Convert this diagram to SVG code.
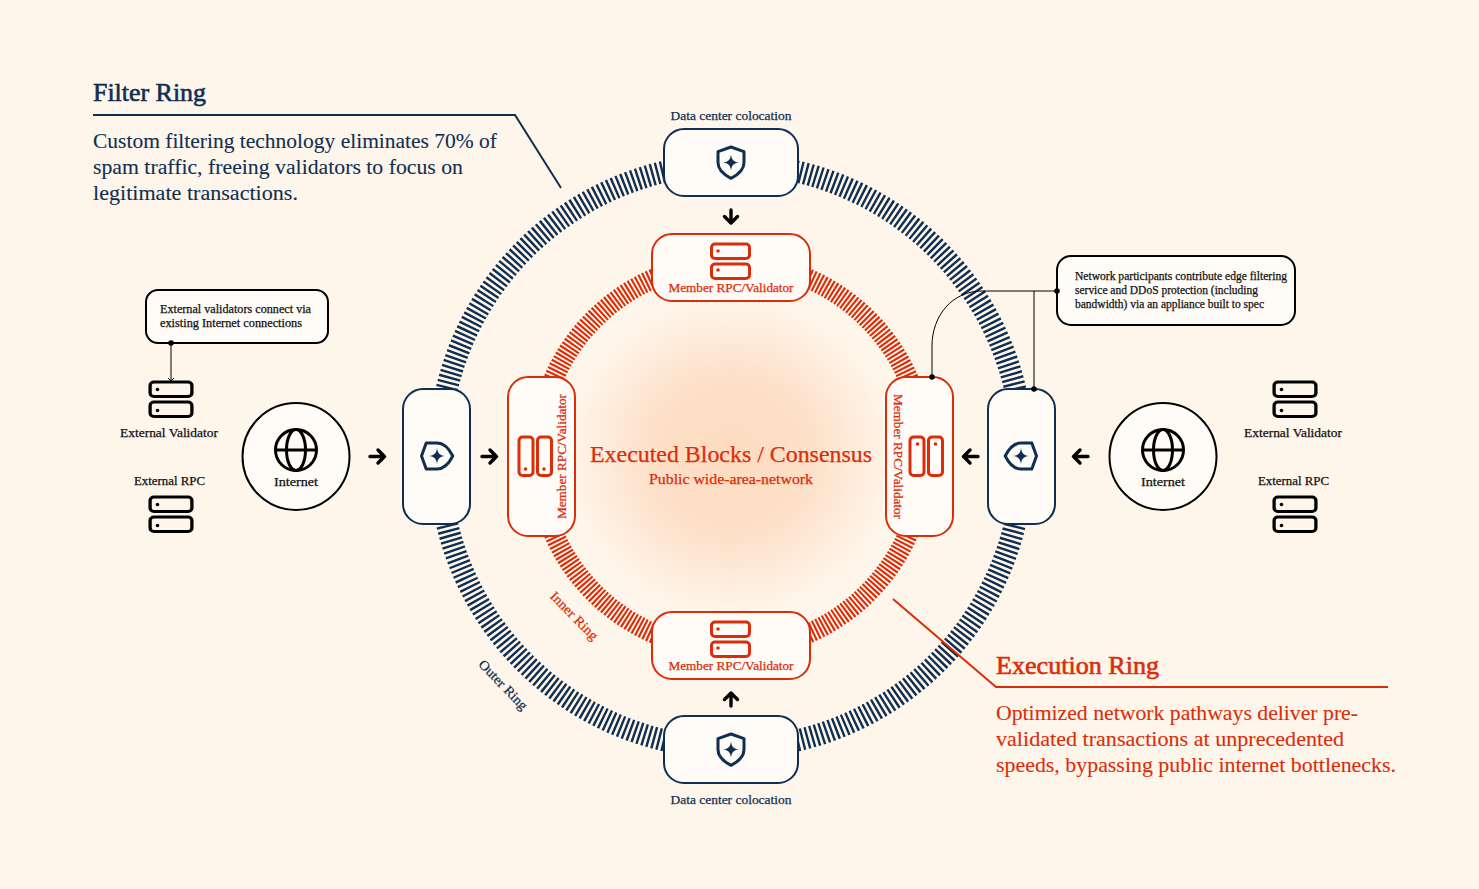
<svg xmlns="http://www.w3.org/2000/svg" xmlns:xlink="http://www.w3.org/1999/xlink" width="1479" height="889" viewBox="0 0 1479 889">
<style>
text{font-family:"Liberation Serif","Times New Roman",serif;}
.navy{fill:#0f2f52;stroke:#0f2f52}.red{fill:#db2d0a;stroke:#db2d0a}.blk{fill:#111;stroke:#111}
text.navy,text.red,text.blk{stroke-width:.25}
circle.red{stroke:none}
.n{fill:#fffcf7;stroke:#0f2f52;stroke-width:2}
.r{fill:#fffcf7;stroke:#db2d0a;stroke-width:2}
.c{fill:#fffcf7;stroke:#000;stroke-width:2}
.arr{fill:none;stroke:#000;stroke-width:3.400;stroke-linecap:round;stroke-linejoin:round}
.srv{fill:none;stroke-width:3}
.lbl{font-size:12.5px}
.title{font-size:25px}
text.title{stroke-width:.6}
.body{font-size:21px}
text.body{stroke-width:.1}
.note{font-size:11.5px}
.mid{text-anchor:middle}
</style>
<defs>
<radialGradient id="glow"><stop offset="0" stop-color="#fddcc0"/><stop offset=".45" stop-color="#fde0c8"/><stop offset=".8" stop-color="#fef0e2"/><stop offset="1" stop-color="#fff6eb" stop-opacity="0"/></radialGradient>
<g id="shield"><path d="M0-15.500 L13-10.800 V0 C13 8 6.500 12.500 0 15.800 C-6.500 12.500-13 8-13 0 V-10.800 Z" fill="none" stroke="#0f2f52" stroke-width="3" stroke-linejoin="round"/><path d="M0-8 C.8-2.500 2.500-.8 8 0 C2.500 .8 .8 2.500 0 8 C-.8 2.500-2.500 .8-8 0 C-2.500-.8-.8-2.500 0-8Z" fill="#0f2f52"/></g>
<g id="srvh" class="srv"><rect x="-19" y="-18" width="38" height="14.500" rx="3.500"/><rect x="-19" y="2" width="38" height="14.500" rx="3.500"/></g>
</defs>
<rect width="1479" height="889" fill="#fff6eb"/>
<ellipse cx="731" cy="456" rx="180" ry="174" fill="url(#glow)"/>
<g id="rings" fill="none">
<circle cx="731" cy="456" r="292" stroke="#0f2f52" stroke-width="22" stroke-dasharray="2.400 2.600"/>
<circle cx="731" cy="456" r="193.500" stroke="#db2d0a" stroke-width="20" stroke-dasharray="2.100 1.800"/>
</g>
<g id="leader-lines" fill="none">
<path d="M93 115H515L561 188" stroke="#0f2f52" stroke-width="2"/>
<path d="M893 599L996 687H1388" stroke="#db2d0a" stroke-width="2"/>
</g>
<g id="node-dc-top"><rect class="n" x="664" y="129" width="134" height="67" rx="20"/><use xlink:href="#shield" href="#shield" x="731" y="162.500"/><text class="lbl navy mid" x="731" y="120" textLength="121" lengthAdjust="spacingAndGlyphs">Data center colocation</text></g>
<g id="node-dc-bottom"><rect class="n" x="664" y="716" width="134" height="67" rx="20"/><use xlink:href="#shield" href="#shield" x="731" y="749.500"/><text class="lbl navy mid" x="731" y="804" textLength="121" lengthAdjust="spacingAndGlyphs">Data center colocation</text></g>
<g id="node-filter-left"><rect class="n" x="403" y="389" width="67" height="135" rx="20"/><use xlink:href="#shield" href="#shield" transform="translate(437 456) rotate(-90)"/></g>
<g id="node-filter-right"><rect class="n" x="988" y="389" width="67" height="135" rx="20"/><use xlink:href="#shield" href="#shield" transform="translate(1021 456) rotate(90)"/></g>
<g id="node-member-top"><rect class="r" x="652" y="234" width="158" height="67" rx="20"/><use xlink:href="#srvh" href="#srvh" x="730.500" y="262" stroke="#db2d0a"/><circle class="red" cx="718" cy="251" r="1.800"/><circle class="red" cx="718" cy="270" r="1.800"/><text class="lbl red mid" x="731" y="292" textLength="125" lengthAdjust="spacingAndGlyphs">Member RPC/Validator</text></g>
<g id="node-member-bottom"><rect class="r" x="652" y="612" width="158" height="67" rx="20"/><use xlink:href="#srvh" href="#srvh" x="730.500" y="640" stroke="#db2d0a"/><circle class="red" cx="718" cy="629" r="1.800"/><circle class="red" cx="718" cy="648" r="1.800"/><text class="lbl red mid" x="731" y="670" textLength="125" lengthAdjust="spacingAndGlyphs">Member RPC/Validator</text></g>
<g id="node-member-left"><rect class="r" x="508" y="377" width="67" height="159" rx="20"/><g fill="none" stroke="#db2d0a" stroke-width="3"><rect x="519" y="437" width="14" height="38.500" rx="3.500"/><rect x="537.500" y="437" width="14" height="38.500" rx="3.500"/></g><circle class="red" cx="525.500" cy="469" r="1.800"/><circle class="red" cx="544" cy="469" r="1.800"/><text class="lbl red mid" transform="translate(566 456.500) rotate(-90)" textLength="125" lengthAdjust="spacingAndGlyphs">Member RPC/Validator</text></g>
<g id="node-member-right"><rect class="r" x="886" y="377" width="67" height="159" rx="20"/><g fill="none" stroke="#db2d0a" stroke-width="3"><rect x="910" y="437" width="14" height="38.500" rx="3.500"/><rect x="928.500" y="437" width="14" height="38.500" rx="3.500"/></g><circle class="red" cx="917.500" cy="444" r="1.800"/><circle class="red" cx="935.500" cy="444" r="1.800"/><text class="lbl red mid" transform="translate(894 456.500) rotate(90)" textLength="125" lengthAdjust="spacingAndGlyphs">Member RPC/Validator</text></g>
<g id="node-consensus"><text class="red mid" x="731" y="462" font-size="24" textLength="282" lengthAdjust="spacingAndGlyphs">Executed Blocks / Consensus</text><text class="red mid" x="731" y="484" font-size="14.500" textLength="164" lengthAdjust="spacingAndGlyphs">Public wide-area-network</text></g>
<g id="node-internet-left"><circle class="c" cx="296" cy="456.500" r="53.500"/><g fill="none" stroke="#000" stroke-width="3"><circle cx="296" cy="450" r="20.500"/><ellipse cx="296" cy="450" rx="9.500" ry="20.500"/><path d="M275.500 450H316.500"/></g><text class="lbl blk mid" x="296" y="486" textLength="44" lengthAdjust="spacingAndGlyphs">Internet</text></g>
<g id="node-internet-right"><circle class="c" cx="1163" cy="456.500" r="53.500"/><g fill="none" stroke="#000" stroke-width="3"><circle cx="1163" cy="450" r="20.500"/><ellipse cx="1163" cy="450" rx="9.500" ry="20.500"/><path d="M1142.500 450H1183.500"/></g><text class="lbl blk mid" x="1163" y="486" textLength="44" lengthAdjust="spacingAndGlyphs">Internet</text></g>
<g id="node-ext-validator-left"><use xlink:href="#srvh" href="#srvh" transform="translate(171 400) scale(1.100 1)" stroke="#000"/><circle cx="157.500" cy="389.500" r="1.800"/><circle cx="157.500" cy="410.500" r="1.800"/><text class="lbl blk mid" x="169" y="437" textLength="98" lengthAdjust="spacingAndGlyphs">External Validator</text></g>
<g id="node-ext-rpc-left"><use xlink:href="#srvh" href="#srvh" transform="translate(171 515) scale(1.100 1)" stroke="#000"/><circle cx="157.500" cy="504.500" r="1.800"/><circle cx="157.500" cy="525.500" r="1.800"/><text class="lbl blk mid" x="169.500" y="485" textLength="71" lengthAdjust="spacingAndGlyphs">External RPC</text></g>
<g id="node-ext-validator-right"><use xlink:href="#srvh" href="#srvh" transform="translate(1295 400) scale(1.100 1)" stroke="#000"/><circle cx="1281.500" cy="389.500" r="1.800"/><circle cx="1281.500" cy="410.500" r="1.800"/><text class="lbl blk mid" x="1293" y="437" textLength="98" lengthAdjust="spacingAndGlyphs">External Validator</text></g>
<g id="node-ext-rpc-right"><use xlink:href="#srvh" href="#srvh" transform="translate(1295 515) scale(1.100 1)" stroke="#000"/><circle cx="1281.500" cy="504.500" r="1.800"/><circle cx="1281.500" cy="525.500" r="1.800"/><text class="lbl blk mid" x="1293.500" y="485" textLength="71" lengthAdjust="spacingAndGlyphs">External RPC</text></g>
<g id="callout-left"><rect class="c" x="146" y="290" width="182" height="53" rx="12"/><text class="note blk" x="160" y="313" textLength="151" lengthAdjust="spacingAndGlyphs">External validators connect via</text><text class="note blk" x="160" y="327" textLength="142" lengthAdjust="spacingAndGlyphs">existing Internet connections</text></g>
<g id="callout-right"><rect class="c" x="1057" y="256" width="238" height="69" rx="14"/><text class="note blk" x="1075" y="280" textLength="212" lengthAdjust="spacingAndGlyphs">Network participants contribute edge filtering</text><text class="note blk" x="1075" y="294" textLength="183" lengthAdjust="spacingAndGlyphs">service and DDoS protection (including</text><text class="note blk" x="1075" y="308" textLength="189" lengthAdjust="spacingAndGlyphs">bandwidth) via an appliance built to spec</text></g>
<g id="connectors">
<path class="arr" d="M370 456.500H384M378 450L384.500 456.500L378 463"/>
<path class="arr" d="M482 456.500H496M490 450L496.500 456.500L490 463"/>
<path class="arr" d="M978 456.500H964M970 450L963.500 456.500L970 463"/>
<path class="arr" d="M1088 456.500H1074M1080 450L1073.500 456.500L1080 463"/>
<path class="arr" d="M731 210V223M724.500 216.500L731 223L737.500 216.500"/>
<path class="arr" d="M731 706V693M724.500 699.500L731 693L737.500 699.500"/>
<g fill="none" stroke="#000" stroke-width="1">
<path d="M171 343V381M168 378L171 381L174 378"/>
<path d="M1057 291H982C952 291 932 316 932 346V377"/>
<path d="M1034 291V389"/>
</g>
<circle cx="171" cy="343" r="2.800"/><circle cx="1057" cy="291" r="2.800"/><circle cx="932" cy="377" r="2.800"/><circle cx="1034" cy="389" r="2.800"/>
</g>
<g id="annotations">
<text class="title navy" x="93" y="101" textLength="113" lengthAdjust="spacingAndGlyphs">Filter Ring</text>
<text class="body navy" x="93" y="148" textLength="404" lengthAdjust="spacingAndGlyphs">Custom filtering technology eliminates 70% of</text>
<text class="body navy" x="93" y="174" textLength="370" lengthAdjust="spacingAndGlyphs">spam traffic, freeing validators to focus on</text>
<text class="body navy" x="93" y="200" textLength="205" lengthAdjust="spacingAndGlyphs">legitimate transactions.</text>
<text class="title red" x="996" y="674" textLength="163" lengthAdjust="spacingAndGlyphs">Execution Ring</text>
<text class="body red" x="996" y="720" textLength="362" lengthAdjust="spacingAndGlyphs">Optimized network pathways deliver pre-</text>
<text class="body red" x="996" y="746" textLength="348" lengthAdjust="spacingAndGlyphs">validated transactions at unprecedented</text>
<text class="body red" x="996" y="772" textLength="400" lengthAdjust="spacingAndGlyphs">speeds, bypassing public internet bottlenecks.</text>
<text class="red mid" font-size="13.500" transform="translate(571 619) rotate(45.500)" textLength="62" lengthAdjust="spacingAndGlyphs">Inner Ring</text>
<text class="navy mid" font-size="13.500" transform="translate(500 688) rotate(46)" textLength="64" lengthAdjust="spacingAndGlyphs">Outer Ring</text>
</g>
</svg>
